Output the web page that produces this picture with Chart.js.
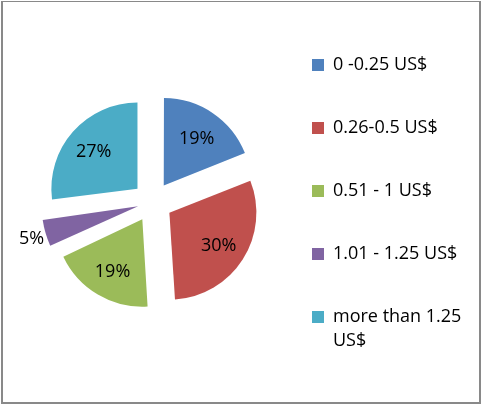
<!DOCTYPE html>
<html>
<head>
<meta charset="utf-8">
<script src="https://cdn.jsdelivr.net/npm/chart.js@4/dist/chart.umd.min.js"></script>
<style>
    body { margin: 0; background: #fff; }
    #wrap { position: relative; width: 481px; height: 404px; }
    #chart { position: absolute; left: 0; top: 0; }
    #frame {
        position: absolute; left: 1px; top: 1px; width: 476px; height: 400px;
        border: 2px solid #898989; border-top-width: 1px;
        pointer-events: none;
    }
</style>
</head>
<body>
<div id="wrap">
    <canvas id="chart" width="481" height="404"></canvas>
    <div id="frame"></div>
</div>
<script>
// Data
const labels = ['0 -0.25 US$', '0.26-0.5 US$', '0.51 - 1 US$', '1.01 - 1.25 US$', ['more than 1.25', 'US$']];
const shares = [19, 30, 19, 5, 27];
const colors = ['#4F81BD', '#C0504D', '#9BBB59', '#8064A2', '#4BACC6'];
// Chart.js pushes a slice out by offset / 4 px
const explode = [80, 80, 80, 60, 80];

const fontFamily = "'Open Sans', sans-serif";

// Draw the percentage labels, small slices get theirs outside
const pctLabels = {
    id: 'pctLabels',
    afterDatasetsDraw(chart) {
        const ctx = chart.ctx;
        const meta = chart.getDatasetMeta(0);
        ctx.save();
        ctx.font = '18px ' + fontFamily;
        ctx.fillStyle = '#000';
        ctx.textAlign = 'center';
        ctx.textBaseline = 'middle';
        meta.data.forEach(function(arc, i) {
            const p = arc.getProps(['x', 'y', 'startAngle', 'endAngle', 'outerRadius'], true);
            const mid = (p.startAngle + p.endAngle) / 2;
            const shift = arc.options.offset / 4;
            const r = shares[i] >= 10 ? shift + p.outerRadius * 0.68 : shift + p.outerRadius + 25;
            ctx.fillText(shares[i] + '%', p.x + Math.cos(mid) * r, p.y + Math.sin(mid) * r + 2);
        });
        ctx.restore();
    }
};

new Chart(document.getElementById('chart').getContext('2d'), {
    type: 'pie',
    data: {
        labels: labels,
        datasets: [{
            data: shares,
            backgroundColor: colors,
            borderWidth: 0,
            offset: explode,
            hoverOffset: 0
        }]
    },
    options: {
        responsive: false,
        animation: false,
        radius: 86,
        layout: { padding: { left: 38, right: 18, top: 0, bottom: 0 } },
        plugins: {
            tooltip: { enabled: false },
            legend: {
                position: 'right',
                align: 'start',
                maxWidth: 196,
                title: { display: true, text: '', font: { size: 1, lineHeight: 1 }, padding: { top: 10, bottom: 0 } },
                labels: {
                    boxWidth: 12,
                    boxHeight: 12,
                    padding: 45,
                    color: '#000',
                    font: { family: fontFamily, size: 18, lineHeight: 24 / 18 }
                }
            }
        }
    },
    plugins: [pctLabels]
});
</script>
</body>
</html>
